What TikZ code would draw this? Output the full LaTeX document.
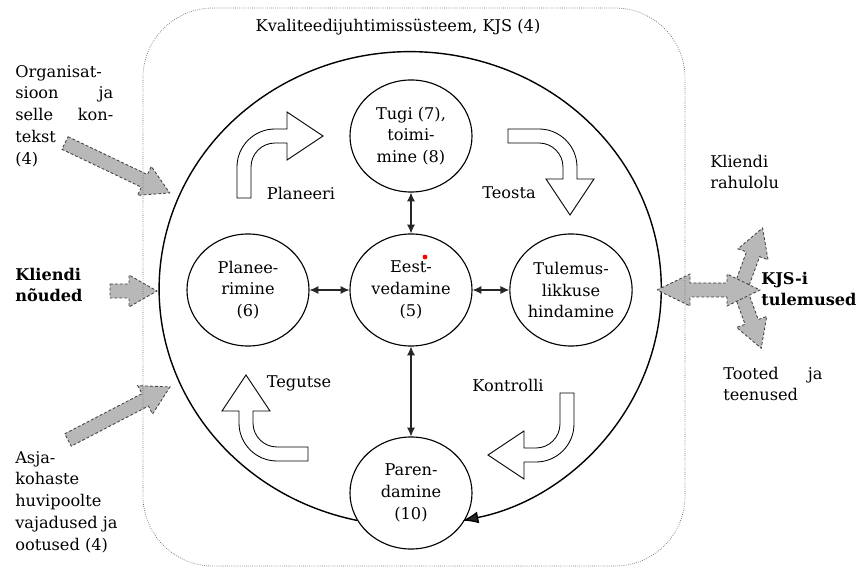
\documentclass[tikz,border=0pt]{standalone}
\usepackage{fontspec}
\setmainfont{DejaVu Serif}
\usetikzlibrary{arrows.meta,shapes.geometric}
\tikzset{>={Latex[length=2.2mm,width=2mm]}}
\tikzset{
  protsess/.style={draw,ellipse,line width=0.8pt,minimum width=3.05cm,minimum height=2.8cm,inner sep=0pt,align=center},
  silt/.style={inner sep=0pt,align=left},
  paks/.style={font=\fontsize{11.5}{15.5}\selectfont\bfseries},
  hall/.style={fill=black!28,draw=black!75,line width=0.6pt,dash pattern=on 2pt off 1.5pt},
  valge/.style={fill=white,draw=black,line width=0.6pt},
  seos/.style={<->,line width=0.8pt,black!85}
}
\newcommand{\sisendnool}[3]{\draw[hall,shift={#1},rotate=#2] (0,-7) -- ({#3-28},-7) -- ({#3-28},-16) -- (#3,0) -- ({#3-28},16) -- ({#3-28},7) -- (0,7) -- cycle;}
\newcommand{\tsyklinool}[2]{\draw[valge,shift={#1},rotate=#2] (-7,62) -- (-7,31) .. controls (-7,10) and (10,-7) .. (31,-7) -- (43,-7) -- (43,-24) -- (79,0) -- (43,24) -- (43,7) -- (31,7) .. controls (17.8,7) and (7,17.8) .. (7,31) -- (7,62) -- cycle;}

\begin{document}
\begin{tikzpicture}[x=0.025cm,y=-0.025cm,every node/.style={font=\fontsize{11.5}{15.5}\selectfont}]
      \useasboundingbox (0,0) rectangle (864,571);
      \node (pealkiri) at (398,27) {Kvaliteedijuhtimissüsteem, KJS (4)};
      \node[protsess] (tugi) at (411,136) {Tugi (7),\\toimi-\\mine (8)};
      \node[protsess] (eest) at (411,290) {Eest-\\vedamine\\(5)};
      \node[protsess] (planeerimine) at (248,290) {Planee-\\rimine\\(6)};
      \node[protsess] (tulemus) at (571,290) {Tulemus-\\likkuse\\hindamine};
      \node[protsess] (parendamine) at (411,493) {Paren-\\damine\\(10)};
      \draw[line width=1pt,-{Latex[length=4mm,width=3mm,fill=black!85]}] (parendamine.207) arc[start angle=257.8,end angle=-78,x radius=6.275cm,y radius=5.925cm];
      \draw[seos] (tugi) -- (eest);
      \draw[seos] (planeerimine) -- (eest);
      \draw[seos] (eest) -- (tulemus);
      \draw[seos] (eest) -- (parendamine);
      \fill[red] (425,257) circle[radius=0.06cm];
      \tsyklinool{(244,136)}{0}
      \tsyklinool{(570,136)}{-90}
      \tsyklinool{(567,455)}{180}
      \tsyklinool{(246,454)}{90}
      \node (planeeri) at (301,193) {Planeeri};
      \node (teosta) at (509,193) {Teosta};
      \node (tegutse) at (299,383) {Tegutse};
      \node (kontrolli) at (508,385) {Kontrolli};
      \node[silt,anchor=west,text width=2.45cm] (organisatsioon) at (15,116) {Organisat-\\sioon\hfill ja\\selle\hfill kon-\\tekst\\(4)};
      \node[silt,paks,anchor=west] (kliendinouded) at (15,285) {Kliendi\\nõuded};
      \node[silt,anchor=west] (asjakohased) at (15,502) {Asja-\\kohaste\\huvipoolte\\vajadused ja\\ootused (4)};
      \node[silt,anchor=west] (rahulolu) at (710,172) {Kliendi\\rahulolu};
      \node[silt,paks,anchor=west] (tulemused) at (761,289) {KJS-i\\tulemused};
      \node[silt,anchor=west,text width=2.48cm] (tooted) at (723,384) {Tooted\hfill ja\\teenused};
      \sisendnool{(65,143)}{-25.5}{116}
      \sisendnool{(110,291)}{0}{47}
      \sisendnool{(68,440)}{27.5}{115}
      \sisendnool{(740,290)}{70}{66}
      \sisendnool{(740,290)}{-70}{62}
      \draw[hall] (657,290) -- (690,274) -- (690,283) -- (727,283) -- (727,274) -- (760,290) -- (727,306) -- (727,297) -- (690,297) -- (690,306) -- cycle;
      \draw[black!60,densely dotted,line width=0.5pt,rounded corners=1.75cm] (143,8) rectangle (685,566);
\end{tikzpicture}
\end{document}
